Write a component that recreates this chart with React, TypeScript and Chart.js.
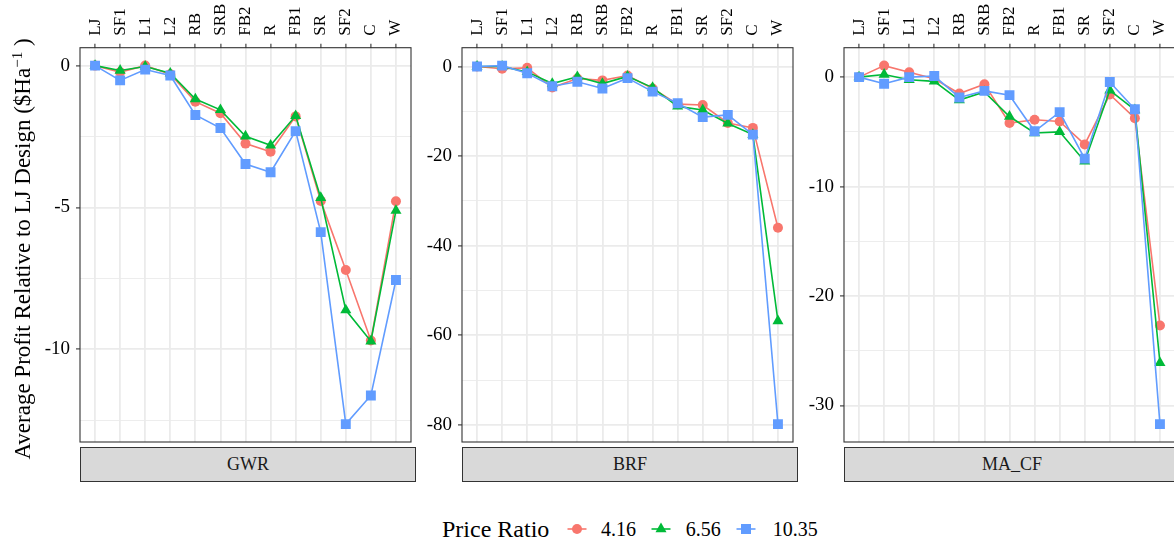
import React, { useEffect, useRef } from 'react';
import { Chart, registerables } from 'chart.js';

Chart.register(...registerables);

// ---------- data ----------
const designs = ['LJ', 'SF1', 'L1', 'L2', 'RB', 'SRB', 'FB2', 'R', 'FB1', 'SR', 'SF2', 'C', 'W'];
const priceRatios = ['4.16', '6.56', '10.35'];
const facetNames = ['GWR', 'BRF', 'MA_CF'];

const gwr416 = [0, -0.23, 0, -0.3, -1.27, -1.68, -2.75, -3.04, -1.79, -4.77, -7.21, -9.69, -4.78];
const gwr656 = [0, -0.17, -0.03, -0.27, -1.18, -1.56, -2.49, -2.81, -1.77, -4.66, -8.62, -9.72, -5.11];
const gwr1035 = [0, -0.52, -0.14, -0.35, -1.74, -2.2, -3.47, -3.76, -2.31, -5.87, -12.64, -11.63, -7.56];

const brf416 = [0, -0.5, -0.3, -4.7, -2.7, -3.1, -2.0, -4.9, -8.4, -8.6, -12.6, -13.7, -36.0];
const brf656 = [0, 0, -1.2, -3.8, -2.3, -3.8, -2.2, -4.7, -8.9, -9.7, -12.7, -15.2, -56.8];
const brf1035 = [0, 0.2, -1.5, -4.4, -3.4, -4.9, -2.6, -5.6, -8.2, -11.3, -10.8, -15.2, -79.8];

const macf416 = [0, 1.05, 0.45, -0.15, -1.5, -0.66, -4.2, -3.9, -4.05, -6.15, -1.59, -3.75, -22.7];
const macf656 = [0, 0.24, -0.24, -0.39, -2.1, -1.35, -3.6, -5.1, -5.0, -7.7, -1.2, -3.0, -26.1];
const macf1035 = [0, -0.6, 0, 0.1, -1.86, -1.26, -1.65, -4.95, -3.2, -7.45, -0.45, -2.94, -31.7];

const gwrTicks = [0, -5, -10];
const brfTicks = [0, -20, -40, -60, -80];
const macfTicks = [0, -10, -20, -30];

// ---------- styling ----------
const FONT = "'Liberation Serif', 'Times New Roman', serif";
const CANVAS_FONT = 'Liberation Serif';
const seriesColors = ['#F8766D', '#00BA38', '#619CFF'];
const pointShapes = ['circle', 'triangle', 'rect'];
const pointSizes = [5, 6.4, 7];

const PANEL_W = 336;
const PANEL_TOP = 47.7;
const PANEL_BOTTOM = 447;
const Y_AXIS_W = 60;
const X_FONT = 17;
const X_LINE = 1.2;
const panelLefts = [80, 462, 844];

Chart.defaults.font.family = CANVAS_FONT;

const panelSeries = [
  [gwr416, gwr656, gwr1035],
  [brf416, brf656, brf1035],
  [macf416, macf656, macf1035],
];
const panelTicks = [gwrTicks, brfTicks, macfTicks];

const panelBorder = {
  id: 'panelBorder',
  afterDraw(chart: any) {
    const { ctx, chartArea: a } = chart;
    ctx.save();
    ctx.strokeStyle = '#333333';
    ctx.lineWidth = 1.1;
    ctx.strokeRect(a.left, a.top, a.right - a.left, a.bottom - a.top);
    ctx.restore();
  },
};

function Panel({ index }: { index: number }) {
  const ref = useRef<HTMLCanvasElement | null>(null);
  useEffect(() => {
    if (!ref.current) return;
    const series = panelSeries[index];
    const majors = panelTicks[index];
    const all = series.flat();
    const lo = Math.min(...all);
    const hi = Math.max(...all);
    const pad = (hi - lo) * 0.05;
    const yMin = lo - pad;
    const yMax = hi + pad;
    const step = Math.abs(majors[1] - majors[0]);
    const tickVals: number[] = [];
    for (let v = majors[0] + step / 2; v >= yMin; v -= step / 2) {
      if (v <= yMax) tickVals.push(v);
    }
    for (const m of majors) if (!tickVals.includes(m)) tickVals.push(m);
    tickVals.sort((a, b) => a - b);
    const isMajor = (v: number) => majors.some((m) => Math.abs(m - v) < 1e-9);

    const chart = new Chart(ref.current, {
      type: 'line',
      data: {
        datasets: series.map((vals, k) => ({
          label: priceRatios[k],
          data: vals.map((v, i) => ({ x: i, y: v })),
          borderColor: seriesColors[k],
          backgroundColor: seriesColors[k],
          pointBackgroundColor: seriesColors[k],
          borderWidth: 1.6,
          pointStyle: pointShapes[k] as any,
          pointRadius: pointSizes[k],
          pointHoverRadius: pointSizes[k],
          pointBorderWidth: 0,
          tension: 0,
          order: 2 - k,
        })),
      },
      options: {
        animation: false,
        responsive: false,
        maintainAspectRatio: false,
        events: [],
        font: { family: CANVAS_FONT },
        layout: { padding: { top: 0, left: 0, right: 2, bottom: 2 } },
        plugins: { legend: { display: false }, tooltip: { enabled: false } },
        scales: {
          x: {
            type: 'linear',
            position: 'top',
            min: -0.6,
            max: designs.length - 0.4,
            afterBuildTicks: (s: any) => {
              s.ticks = designs.map((_, i) => ({ value: i }));
            },
            afterFit: (s: any) => {
              s.height = PANEL_TOP;
              s.paddingLeft = 0;
              s.paddingRight = 0;
            },
            ticks: {
              autoSkip: false,
              minRotation: 90,
              maxRotation: 90,
              padding: 8,
              labelOffset: X_FONT * X_LINE,
              color: '#000000',
              font: { size: X_FONT, family: CANVAS_FONT, lineHeight: X_LINE },
              callback: (v: any) => designs[Math.round(v)] ?? '',
            },
            grid: {
              color: '#EBEBEB',
              lineWidth: 1.8,
              tickColor: '#333333',
              tickLength: 4,
              tickWidth: 1.1,
            },
            border: { display: false },
          },
          y: {
            type: 'linear',
            min: yMin,
            max: yMax,
            afterBuildTicks: (s: any) => {
              s.ticks = tickVals.map((v) => ({ value: v }));
            },
            afterFit: (s: any) => {
              s.width = Y_AXIS_W;
              s.paddingTop = 0;
              s.paddingBottom = 0;
            },
            ticks: {
              padding: 6,
              color: '#000000',
              font: { size: 19, family: CANVAS_FONT },
              callback: (v: any) => (isMajor(v) ? String(v) : ''),
            },
            grid: {
              color: '#EBEBEB',
              lineWidth: (c: any) => (isMajor(c.tick?.value) ? 1.8 : 0.9),
              tickColor: (c: any) => (isMajor(c.tick?.value) ? '#333333' : 'rgba(0,0,0,0)'),
              tickLength: 4,
              tickWidth: 1.1,
            },
            border: { display: false },
          },
        },
      },
      plugins: [panelBorder],
    } as any);
    return () => chart.destroy();
  }, [index]);

  const left = panelLefts[index] - Y_AXIS_W;
  return (
    <>
      <canvas
        ref={ref}
        width={Y_AXIS_W + PANEL_W + 2}
        height={PANEL_BOTTOM + 2}
        style={{ position: 'absolute', left, top: 0, width: Y_AXIS_W + PANEL_W + 2, height: PANEL_BOTTOM + 2 }}
      />
      <div
        style={{
          position: 'absolute',
          left: panelLefts[index],
          top: PANEL_BOTTOM,
          width: PANEL_W,
          height: 35,
          boxSizing: 'border-box',
          background: '#D9D9D9',
          border: '1.1px solid #333333',
          display: 'flex',
          alignItems: 'center',
          justifyContent: 'center',
          fontFamily: FONT,
          fontSize: 18,
          color: '#1A1A1A',
        }}
      >
        {facetNames[index]}
      </div>
    </>
  );
}

function LegendKey({ k }: { k: number }) {
  const c = seriesColors[k];
  let shape: React.ReactNode;
  if (k === 0) shape = <circle cx={10} cy={10} r={5} fill={c} />;
  else if (k === 1) shape = <polygon points="10,3.6 15.5,13.2 4.5,13.2" fill={c} />;
  else shape = <rect x={5} y={5} width={10} height={10} fill={c} />;
  return (
    <svg width={20} height={20}>
      <line x1={0.5} y1={10} x2={19.5} y2={10} stroke={c} strokeWidth={1.6} />
      {shape}
    </svg>
  );
}

export default function App() {
  const keyCenters = [576.7, 661, 746];
  const labelLefts = [601, 685.7, 772.7];
  const legendY = 529.3;
  return (
    <div
      style={{
        position: 'absolute',
        left: 0,
        top: 0,
        width: 1174,
        height: 541,
        overflow: 'hidden',
        background: '#ffffff',
        fontFamily: FONT,
      }}
    >
      {[0, 1, 2].map((i) => (
        <Panel key={i} index={i} />
      ))}
      <div
        style={{
          position: 'absolute',
          left: 23 - 300,
          top: 249 - 14,
          width: 600,
          height: 28,
          lineHeight: '28px',
          textAlign: 'center',
          transform: 'rotate(-90deg)',
          fontSize: 23,
          color: '#000000',
          whiteSpace: 'nowrap',
        }}
      >
        Average Profit Relative to LJ Design ($Ha
        <span style={{ fontSize: 15, position: 'relative', top: -8 }}>{'\u22121'}</span> )
      </div>
      <div
        style={{
          position: 'absolute',
          left: 442,
          top: legendY - 12,
          height: 24,
          lineHeight: '24px',
          fontSize: 24,
          color: '#000000',
          whiteSpace: 'nowrap',
        }}
      >
        Price Ratio
      </div>
      {priceRatios.map((p, k) => (
        <React.Fragment key={p}>
          <div style={{ position: 'absolute', left: keyCenters[k] - 10, top: legendY - 10, width: 20, height: 20 }}>
            <LegendKey k={k} />
          </div>
          <div
            style={{
              position: 'absolute',
              left: labelLefts[k],
              top: legendY - 10,
              height: 20,
              lineHeight: '20px',
              fontSize: 20,
              color: '#000000',
              whiteSpace: 'nowrap',
            }}
          >
            {p}
          </div>
        </React.Fragment>
      ))}
    </div>
  );
}
